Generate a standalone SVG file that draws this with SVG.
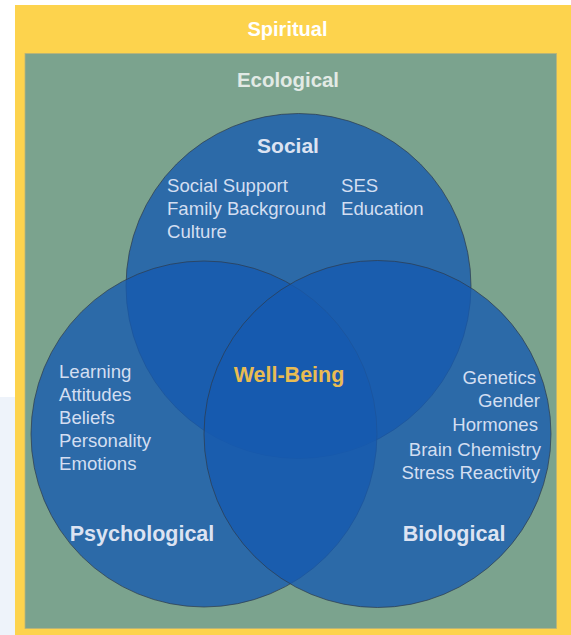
<svg xmlns="http://www.w3.org/2000/svg" width="571" height="635" viewBox="0 0 571 635">
<style>
.h{font-family:"Liberation Sans",Arial,sans-serif;font-weight:bold;font-size:21px;fill:#DCE3F2;text-anchor:middle}
.t{font-family:"Liberation Sans",Arial,sans-serif;font-size:18.6px;fill:#D3DEF1}
.r{text-anchor:end}
.c{fill:#165AB0;fill-opacity:0.78;stroke:#2E3A4A;stroke-opacity:0.7;stroke-width:1}
</style>
<rect x="0" y="0" width="571" height="635" fill="#FFFFFF"/>
<rect x="0" y="397" width="15" height="238" fill="#EEF3FA"/>
<g id="spiritual">
<rect x="15" y="5" width="556" height="630" fill="#FDD34D"/>
<text x="287.5" y="36" class="h" style="fill:#FFFFFF;font-size:20px">Spiritual</text>
</g>
<g id="ecological">
<rect x="25" y="53.5" width="531.5" height="575" fill="#7BA38E" stroke="#B9B27A" stroke-width="0.8"/>
<text x="288" y="87" class="h" style="fill:#E2EAE5;font-size:20.4px">Ecological</text>
</g>
<g id="connectors"></g>
<g id="social">
<circle class="c" cx="298.5" cy="286" r="172.5"/>
</g>
<g id="psychological">
<circle class="c" cx="204" cy="434" r="173"/>
</g>
<g id="biological">
<circle class="c" cx="377.5" cy="434" r="173.5"/>
</g>
<g id="social-text">
<text x="288" y="153" class="h">Social</text>
<text x="167" y="192" class="t">Social Support</text>
<text x="167" y="215" class="t">Family Background</text>
<text x="167" y="238" class="t">Culture</text>
<text x="341" y="192" class="t">SES</text>
<text x="341" y="215" class="t">Education</text>
</g>
<g id="psychological-text">
<text x="59" y="378" class="t">Learning</text>
<text x="59" y="401" class="t">Attitudes</text>
<text x="59" y="424" class="t">Beliefs</text>
<text x="59" y="447" class="t">Personality</text>
<text x="59" y="470" class="t">Emotions</text>
<text x="142" y="541" class="h" style="font-size:21.5px">Psychological</text>
</g>
<g id="biological-text">
<text x="536" y="384" class="t r">Genetics</text>
<text x="540" y="407" class="t r">Gender</text>
<text x="538" y="431" class="t r">Hormones</text>
<text x="541" y="456" class="t r">Brain Chemistry</text>
<text x="540" y="479" class="t r">Stress Reactivity</text>
<text x="454" y="541" class="h" style="font-size:21.5px">Biological</text>
</g>
<g id="well-being">
<text x="289" y="382" class="h" style="fill:#E9BC52;font-size:21.5px">Well-Being</text>
</g>
</svg>
